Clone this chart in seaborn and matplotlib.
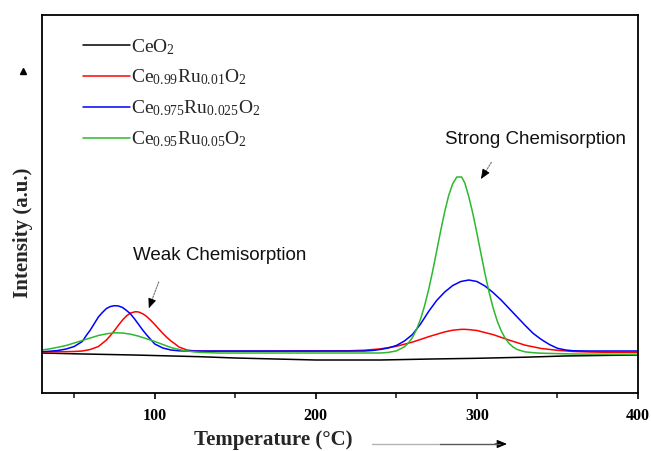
import numpy as np
import pandas as pd
import seaborn as sns
import matplotlib
matplotlib.use("Agg")
import matplotlib.pyplot as plt
from matplotlib.lines import Line2D
from matplotlib.patches import FancyArrowPatch

# ---------------- data ----------------
labels = [r"$\mathregular{CeO_2}$",
          r"$\mathregular{Ce_{0.99}Ru_{0.01}O_2}$",
          r"$\mathregular{Ce_{0.975}Ru_{0.025}O_2}$",
          r"$\mathregular{Ce_{0.95}Ru_{0.05}O_2}$"]
colors = ["#000000", "#ff0000", "#0000ff", "#2db82d"]

ceo2_T = [30, 50, 87, 128, 150, 175, 200, 240, 272, 300, 330, 354, 380, 400]
ceo2_I = [4.0, 3.92, 3.8, 3.63, 3.5, 3.4, 3.3, 3.3, 3.4, 3.47, 3.58, 3.7, 3.76, 3.8]

ru001_T = [30, 50, 55, 60, 65, 67.5, 70, 72.5, 75, 77.5, 80, 82.5, 85, 88, 90, 92.5, 95,
           97.5, 100, 102.5, 105, 107.5, 110, 112.5, 115, 120, 125,
           130, 150, 200, 220, 230, 240, 250, 260, 270, 280, 285, 290, 292, 295, 300, 310,
           320, 330, 340, 350, 360, 370, 380, 400]
ru001_I = [4.1, 4.15, 4.2, 4.35, 4.65, 4.97, 5.3, 5.75, 6.25, 6.79, 7.3, 7.72, 8.0, 8.13,
           8.1, 7.93, 7.65, 7.27, 6.85, 6.4, 5.96, 5.56, 5.21, 4.92, 4.6, 4.3, 4.2,
           4.18, 4.18, 4.2, 4.22, 4.28, 4.41, 4.67, 5.09, 5.63, 6.11,
           6.28, 6.36, 6.37, 6.34, 6.25, 5.84, 5.29, 4.78, 4.45, 4.27, 4.15, 4.1, 4.07, 4.05]

ru0025_T = [30, 35, 40, 45, 50, 55, 57.5, 60, 62.5, 65, 67.5, 70, 72.5, 75, 77.5, 80, 82.5,
            85, 87.5, 90, 92.5, 95, 97.5, 100, 105, 110, 115,
            120, 130, 200, 230, 235, 240, 245, 250, 255, 260, 265, 270, 275, 280, 285, 290,
            295, 300, 305, 310, 315, 320, 325, 330, 335, 340, 345, 350, 355, 360, 370, 400]
ru0025_I = [4.13, 4.18, 4.25, 4.4, 4.65, 5.15, 5.75, 6.3, 6.95, 7.6, 8.05, 8.45, 8.65, 8.73,
            8.7, 8.55, 8.25, 7.9, 7.4, 6.85, 6.3, 5.8, 5.35, 4.9, 4.5, 4.3, 4.22,
            4.2, 4.2, 4.2, 4.2, 4.25, 4.35, 4.5, 4.75, 5.2, 5.85, 6.9,
            8.15, 9.25, 10.1, 10.75, 11.15, 11.3, 11.15, 10.7, 10.05, 9.3, 8.45, 7.6, 6.75,
            5.95, 5.35, 4.85, 4.47, 4.3, 4.22, 4.2, 4.2]

ru005_T = [30, 35, 40, 45, 50, 55, 60, 65, 70, 75, 80, 85, 90, 95, 100, 105, 110, 115, 120,
           125, 130, 140, 200, 240, 245, 250, 255, 257.5, 260, 262.5, 265, 267.5, 270,
           272.5, 275, 277.5, 280, 282.5, 285, 287.5, 290.5, 292.5, 295, 297.5, 300, 302.5,
           305, 307.5, 310, 312.5, 315, 317.5, 320, 322.5, 325, 330, 335, 340, 360, 400]
ru005_I = [4.3, 4.42, 4.58, 4.75, 5.0, 5.25, 5.5, 5.75, 5.92, 6.02, 6.0, 5.88, 5.68, 5.42,
           5.15, 4.85, 4.55, 4.35, 4.2, 4.1, 4.05, 4.0, 4.0, 4.0, 4.06, 4.21, 4.62, 5.01,
           5.56, 6.35, 7.38, 8.72, 10.32, 12.17, 14.19, 16.22, 18.13, 19.77, 20.93, 21.6,
           21.6, 21.0, 19.6, 17.93, 15.98, 13.94, 11.94, 10.12, 8.54, 7.25, 6.24, 5.49,
           4.95, 4.59, 4.35, 4.11, 4.03, 3.98, 3.9, 3.85]

x_ticks = [100, 200, 300, 400]
x_minor = [50, 150, 250, 350]

series = [(ceo2_T, ceo2_I), (ru001_T, ru001_I), (ru0025_T, ru0025_I), (ru005_T, ru005_I)]
frames = []
for lab, (t, v) in zip(labels, series):
    frames.append(pd.DataFrame({"T": t, "I": v, "sample": lab}))
df = pd.concat(frames, ignore_index=True)

# ---------------- style ----------------
sns.set_style("white")
plt.rcParams["font.family"] = ["Liberation Serif", "DejaVu Serif"]
plt.rcParams["mathtext.fontset"] = "custom"
plt.rcParams["mathtext.rm"] = "Liberation Serif"

W, H = 651, 451
fig = plt.figure(figsize=(W / 100, H / 100), dpi=100)
ax = fig.add_axes([42 / W, 1 - 393 / H, (638 - 42) / W, (393 - 15) / H])

sns.lineplot(data=df, x="T", y="I", hue="sample", palette=dict(zip(labels, colors)),
             sort=False, estimator=None, linewidth=1.1, ax=ax)

ax.set_xlim(30, 400)
ax.set_ylim(0, 37.8)
ax.set_yticks([])
ax.set_xticks(x_ticks)
ax.set_xticks(x_minor, minor=True)
ax.tick_params(axis="x", which="major", direction="out", length=4, width=1.2,
               bottom=True, top=False, pad=7, labelsize=11.5, colors="black")
ax.tick_params(axis="x", which="minor", direction="out", length=3.5, width=1.2,
               bottom=True, top=False)
for lbl in ax.get_xticklabels():
    lbl.set_fontweight("bold")
for sp in ax.spines.values():
    sp.set_visible(True)
    sp.set_color("black")
    sp.set_linewidth(1.3)

ax.set_xlabel("Temperature (°C)", fontsize=15, fontweight="bold")
ax.xaxis.set_label_coords((273.5 - 42) / 596, (393 - 440) / 378)
ax.xaxis.label.set_va("center")
ax.set_ylabel("Intensity (a.u.)", fontsize=15, fontweight="bold")
ax.yaxis.set_label_coords((23 - 42) / 596, (393 - 232.5) / 378)
ax.yaxis.label.set_va("center")

# legend
leg = ax.legend(loc="upper left", bbox_to_anchor=((83 - 42) / 596, 1 - (37 - 15) / 378),
                frameon=False, prop={"family": "Liberation Serif", "size": 14},
                handlelength=2.4, handletextpad=0.05, labelspacing=0.57,
                borderaxespad=0, borderpad=0)
for h in leg.get_lines():
    h.set_linewidth(1.1)

# annotations
ax.text(140.1, 13.7, "Weak Chemisorption", family="Liberation Sans", fontsize=13.5,
        ha="center", va="center", color="#111111")
ax.text(336.5, 25.3, "Strong Chemisorption", family="Liberation Sans", fontsize=13.5,
        ha="center", va="center", color="#111111")
for tail, head in [((103.1, 11.37), (96.3, 8.47)), ((309.9, 23.3), (302.5, 21.4))]:
    ax.annotate("", xy=head, xytext=tail,
                arrowprops=dict(arrowstyle="-", color="0.45", lw=0.8, linestyle=(0, (1.5, 1.2))))
    dx, dy = head[0] - tail[0], head[1] - tail[1]
    ax.annotate("", xy=head, xytext=(head[0] - 0.2 * dx, head[1] - 0.2 * dy),
                arrowprops=dict(arrowstyle="-|>,head_length=0.6,head_width=0.25",
                                color="black", lw=0.6, shrinkA=0, shrinkB=0))

# x-axis direction arrow (light grey fading to dark)
ya = 1 - 444 / H
fig.add_artist(Line2D([372 / W, 440 / W], [ya, ya], color="0.7", lw=1.0,
                      transform=fig.transFigure))
fig.add_artist(Line2D([440 / W, 500 / W], [ya, ya], color="0.35", lw=1.0,
                      transform=fig.transFigure))
fig.patches.append(FancyArrowPatch(
    (495 / W, ya), (507 / W, ya), transform=fig.transFigure,
    arrowstyle="-|>,head_length=6,head_width=2.5", color="black", lw=0.8,
    mutation_scale=1, shrinkA=0, shrinkB=0))
# y-axis arrow head (only the head is visible in the reference)
fig.add_artist(Line2D([22.5 / W], [1 - 71 / H], marker="^", color="black",
                      markersize=4, transform=fig.transFigure))

fig.savefig("out.png", dpi=100)
